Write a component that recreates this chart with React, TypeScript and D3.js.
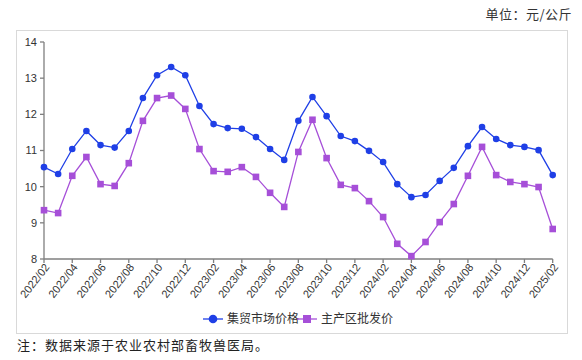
import React from "react";
import * as d3 from "d3";

const months = [
  "2022/02","2022/03","2022/04","2022/05","2022/06","2022/07","2022/08","2022/09","2022/10","2022/11","2022/12",
  "2023/01","2023/02","2023/03","2023/04","2023/05","2023/06","2023/07","2023/08","2023/09","2023/10","2023/11","2023/12",
  "2024/01","2024/02","2024/03","2024/04","2024/05","2024/06","2024/07","2024/08","2024/09","2024/10","2024/11","2024/12",
  "2025/01","2025/02",
];

const marketPrice = [
  10.54, 10.35, 11.04, 11.54, 11.15, 11.08, 11.54, 12.45, 13.08, 13.31, 13.08,
  12.23, 11.73, 11.62, 11.6, 11.37, 11.04, 10.74, 11.82, 12.48, 11.95, 11.4, 11.26,
  10.99, 10.68, 10.07, 9.71, 9.77, 10.16, 10.52, 11.12, 11.65, 11.32, 11.15, 11.1,
  11.01, 10.32,
];

const wholesalePrice = [
  9.35, 9.27, 10.3, 10.82, 10.07, 10.02, 10.65, 11.82, 12.45, 12.52, 12.15,
  11.04, 10.43, 10.41, 10.54, 10.27, 9.83, 9.44, 10.96, 11.85, 10.79, 10.05, 9.96,
  9.6, 9.16, 8.42, 8.08, 8.47, 9.02, 9.52, 10.3, 11.1, 10.32, 10.13, 10.07,
  9.99, 8.83,
];

const yTicks = [8, 9, 10, 11, 12, 13, 14];
const xTickLabels = months.filter((_, i) => i % 2 === 0);

const seriesNames = ["集贸市场价格", "主产区批发价"];
const unitLabel = "单位：元/公斤";
const footnote = "注：数据来源于农业农村部畜牧兽医局。";

const BLUE = "#1f3fe6";
const PURPLE = "#a64fd8";

export default function App() {
  const W = 582, H = 360;
  const left = 44, right = 552.7, top = 42, bottom = 259;
  const x = d3.scalePoint<string>().domain(months).range([left, right]);
  const y = d3.scaleLinear().domain([8, 14]).range([bottom, top]);
  const line = d3
    .line<number>()
    .x((_, i) => x(months[i]) as number)
    .y((d) => y(d));

  const axisColor = "#7f7f7f";
  const tickFont = "'Liberation Sans', Arial, sans-serif";
  const cjk = "'Noto Sans CJK SC', sans-serif";

  return (
    <svg width={W} height={H} style={{ position: "absolute", left: 0, top: 0, background: "#fff" }}>
      <text x={572} y={19} textAnchor="end" fontFamily={cjk} fontSize={13} fill="#333" letterSpacing={0.5}>
        {unitLabel}
      </text>
      <rect x={16.5} y={30.5} width={551} height={303} fill="#fff" stroke="#d9d9d9" strokeWidth={1} />

      {/* y axis */}
      <line x1={left} x2={left} y1={top} y2={bottom} stroke={axisColor} strokeWidth={1.3} />
      {yTicks.map((t) => (
        <g key={t}>
          <line x1={left - 4} x2={left} y1={y(t)} y2={y(t)} stroke={axisColor} strokeWidth={1.3} />
          <text x={left - 7} y={y(t)} dy="0.35em" textAnchor="end" fontFamily={tickFont} fontSize={11} fill="#333">
            {t}
          </text>
        </g>
      ))}

      {/* x axis */}
      <line x1={left} x2={right} y1={bottom} y2={bottom} stroke={axisColor} strokeWidth={1.3} />
      {xTickLabels.map((m) => {
        const px = x(m) as number;
        return (
          <g key={m}>
            <line x1={px} x2={px} y1={bottom} y2={bottom + 4} stroke={axisColor} strokeWidth={1.3} />
            <text
              transform={`translate(${px + 3},${bottom + 6}) rotate(-52)`}
              textAnchor="end"
              dy="0.35em"
              fontFamily={tickFont}
              fontSize={11}
              fill="#333"
            >
              {m}
            </text>
          </g>
        );
      })}

      {/* series */}
      <path d={line(marketPrice) || ""} fill="none" stroke={BLUE} strokeWidth={1.3} />
      <path d={line(wholesalePrice) || ""} fill="none" stroke={PURPLE} strokeWidth={1.3} />
      {marketPrice.map((v, i) => (
        <circle key={"m" + i} cx={x(months[i]) as number} cy={y(v)} r={3.3} fill={BLUE} />
      ))}
      {wholesalePrice.map((v, i) => (
        <rect key={"w" + i} x={(x(months[i]) as number) - 3.3} y={y(v) - 3.3} width={6.6} height={6.6} fill={PURPLE} />
      ))}

      {/* legend */}
      <g>
        <line x1={203} x2={223} y1={319} y2={319} stroke={BLUE} strokeWidth={1.3} />
        <circle cx={213} cy={319} r={4.3} fill={BLUE} />
        <text x={227} y={319} dy="0.35em" fontFamily={cjk} fontSize={12} fill="#333">
          {seriesNames[0]}
        </text>
        <line x1={297} x2={317} y1={319} y2={319} stroke={PURPLE} strokeWidth={1.3} />
        <rect x={303} y={315} width={8} height={8} fill={PURPLE} />
        <text x={321} y={319} dy="0.35em" fontFamily={cjk} fontSize={12} fill="#333">
          {seriesNames[1]}
        </text>
      </g>

      <text x={17} y={350} fontFamily={cjk} fontSize={13} fill="#222" letterSpacing={1}>
        {footnote}
      </text>
    </svg>
  );
}
